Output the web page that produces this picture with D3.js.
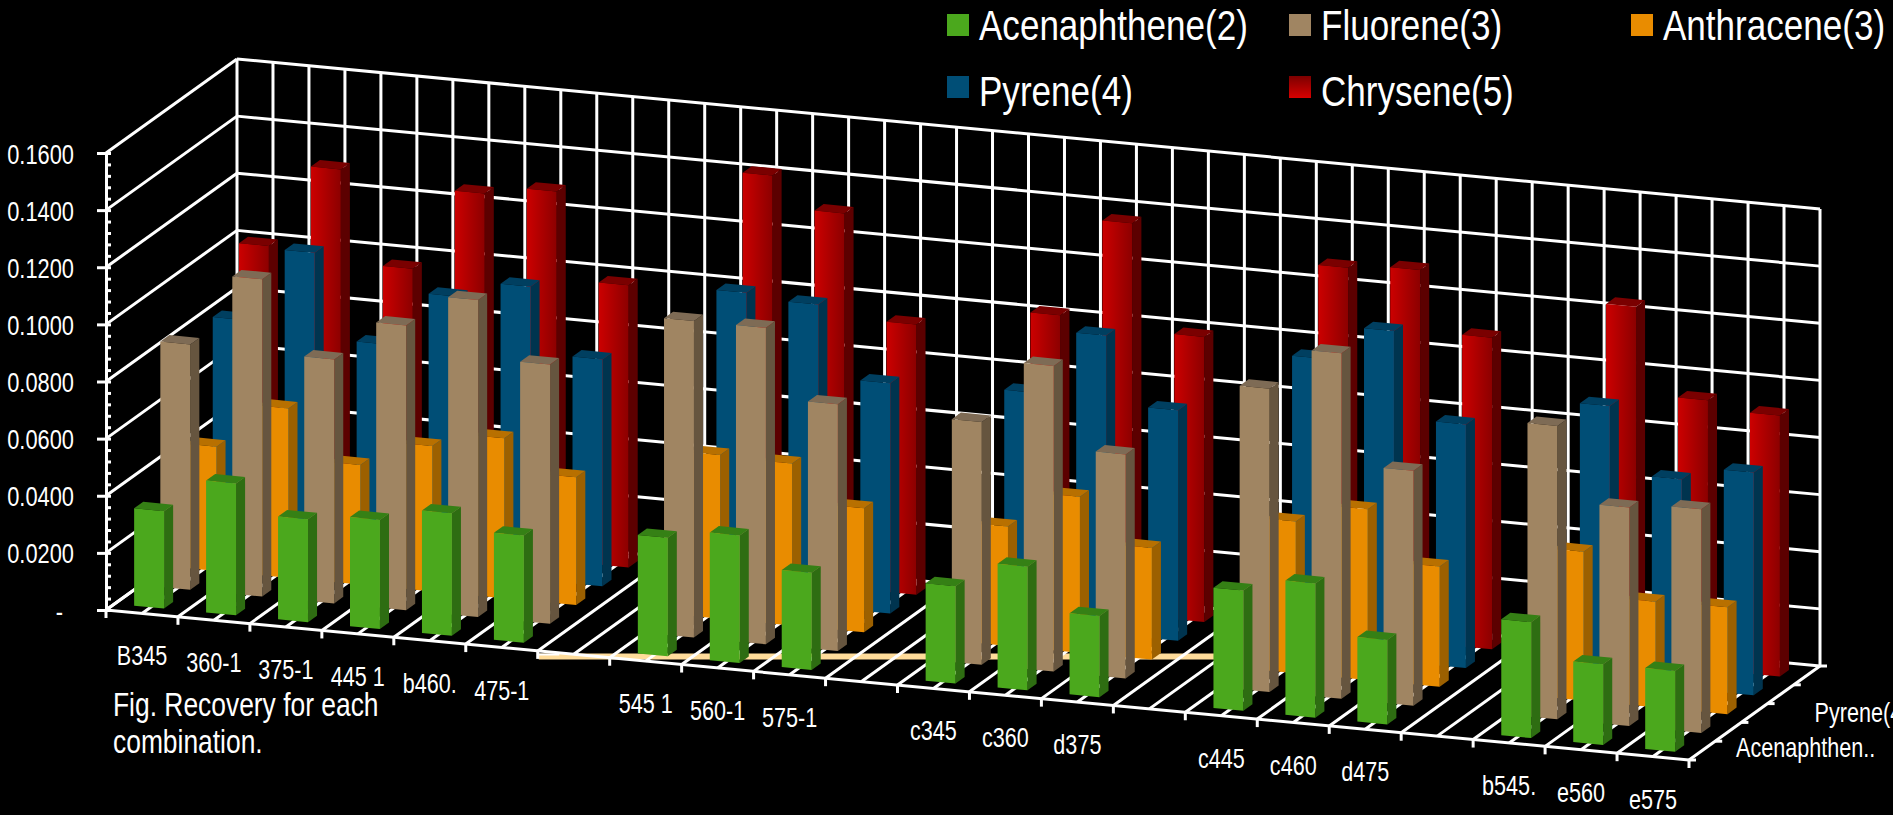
<!DOCTYPE html>
<html><head><meta charset="utf-8">
<script src="https://cdn.jsdelivr.net/npm/d3@7"></script>
<style>
html,body{margin:0;padding:0;background:#000;overflow:hidden}
svg{display:block}
text{font-family:"Liberation Sans",Arial,sans-serif;fill:#fff}
</style></head><body>
<svg id="c" width="1893" height="815"></svg>
<script>
const categories=["B345","360-1","375-1","445 1","b460.","475-1","","545 1","560-1","575-1","","c345","c360","d375","","c445","c460","d475","","b545.","e560","e575"];
const seriesNames=["Acenaphthene(2)","Fluorene(3)","Anthracene(3)","Pyrene(4)","Chrysene(5)"];
const depthLabels=["Acenaphthen..","","","Pyrene(4)",""];
const valueTicks=[0,0.02,0.04,0.06,0.08,0.10,0.12,0.14,0.16];
const acenaphthene=[.0341,.0462,.0360,.0382,.0429,.0375,null,.0415,.0447,.0340,null,.0341,.0433,.0284,null,.0421,.0470,.0296,null,.0406,.0282,.0283];
const fluorene=[.0859,.1111,.0854,.0997,.1110,.0908,null,.1108,.1108,.0864,null,.0850,.1070,.0784,null,.1062,.1210,.0822,null,.1027,.0765,.0783];
const anthracene=[.0435,.0593,.0419,.0509,.0560,.0447,null,.0573,.0567,.0434,null,.0418,.0546,.0391,null,.0531,.0598,.0421,null,.0521,.0370,.0374];
const pyrene=[.0813,.1072,.0775,.0966,.1025,.0794,null,.1075,.1058,.0806,null,.0821,.1045,.0807,null,.1036,.1156,.0853,null,.0965,.0732,.0780];
const chrysene=[.1006,.1298,.0974,.1261,.1292,.0988,null,.1420,.1311,.0946,null,.1026,.1372,.0998,null,.1288,.1304,.1091,null,.1247,.0943,.0914];
const seriesValues=[acenaphthene,fluorene,anthracene,pyrene,chrysene];
const faceColors=[
 {front:"#4ba81d",side:"#2e6d12",top:"#358015"},
 {front:"#a08562",side:"#66553f",top:"#7e6b55"},
 {front:"#e98c00",side:"#9c6000",top:"#b87000"},
 {front:"#004e76",side:"#00344f",top:"#003f60"},
 {front:"url(#redFront)",side:"#5c0000",top:"#7a0000"}];
const legendColors=["#4ba81d","#a08562","#e98c00","#004e76","url(#redLegend)"];

const svg=d3.select("#c");
const defs=svg.append("defs");
const g1=defs.append("linearGradient").attr("id","redFront").attr("x1",0).attr("x2",1).attr("y1",0).attr("y2",0);
g1.append("stop").attr("offset",0).attr("stop-color","#cc0000");
g1.append("stop").attr("offset",1).attr("stop-color","#8c0000");
const g2=defs.append("linearGradient").attr("id","redLegend").attr("x1",0).attr("x2",0).attr("y1",0).attr("y2",1);
g2.append("stop").attr("offset",0).attr("stop-color","#7c0000");
g2.append("stop").attr("offset",1).attr("stop-color","#d80000");

// oblique projection built from scales
const catX=d3.scaleLinear().domain([0,22]).range([106,1689]);
const catY=d3.scaleLinear().domain([0,22]).range([610,760]);
const depX=d3.scaleLinear().domain([0,5]).range([0,131]);
const depY=d3.scaleLinear().domain([0,5]).range([0,-94]);
const valY=d3.scaleLinear().domain([0,0.16]).range([610,153]);
const P=(c,d,v)=>[catX(c)+depX(d), catY(c)+depY(d)+valY(v)-valY(0)];
const pts=a=>a.map(p=>p.join(",")).join(" ");

function label(sel,x,y,str,size,sx,anchor){
  sel.append("text").attr("transform",`translate(${x},${y}) scale(${sx},1)`)
    .attr("font-size",size).attr("text-anchor",anchor||"start").text(str);
}

// stray pale rule under the grid
const stray=svg.append("g");
stray.append("line").attr("x1",catX(6)+1).attr("x2",catX(15.45)).attr("y1",656.5).attr("y2",656.5)
  .attr("stroke","#ffdc9a").attr("stroke-width",6);
stray.append("line").attr("x1",catX(6)+1).attr("x2",catX(6.3)).attr("y1",654.5).attr("y2",654.5)
  .attr("stroke","#fff").attr("stroke-width",2);

// grid
const grid=svg.append("g").attr("stroke","#fff").attr("stroke-width",3).attr("fill","none");
const halfCats=d3.range(0,22.5,0.5);
grid.selectAll(".fl").data(halfCats).join("line").attr("class","fl")
  .attr("x1",c=>P(c,0,0)[0]).attr("y1",c=>P(c,0,0)[1]).attr("x2",c=>P(c,5,0)[0]).attr("y2",c=>P(c,5,0)[1]);
grid.selectAll(".bv").data(halfCats).join("line").attr("class","bv")
  .attr("x1",c=>P(c,5,0)[0]).attr("y1",c=>P(c,5,0)[1]).attr("x2",c=>P(c,5,.16)[0]).attr("y2",c=>P(c,5,.16)[1]);
grid.selectAll(".bh").data(valueTicks).join("line").attr("class","bh")
  .attr("x1",v=>P(0,5,v)[0]).attr("y1",v=>P(0,5,v)[1]).attr("x2",v=>P(22,5,v)[0]).attr("y2",v=>P(22,5,v)[1]);
grid.selectAll(".lw").data(valueTicks).join("line").attr("class","lw")
  .attr("x1",v=>P(0,0,v)[0]).attr("y1",v=>P(0,0,v)[1]).attr("x2",v=>P(0,5,v)[0]).attr("y2",v=>P(0,5,v)[1]);

// bars: back series first
const bw=[0.272,0.688], bd=[0.327,0.673];
seriesValues.map((vals,d)=>({vals,d})).reverse().forEach(({vals,d})=>{
  const col=faceColors[d];
  const rows=vals.map((v,c)=>({v,c})).filter(r=>r.v!=null);
  const g=svg.append("g");
  const bar=g.selectAll("g").data(rows).join("g");
  bar.append("polygon").attr("fill",col.side).attr("points",r=>pts([
    P(r.c+bw[1],d+bd[0],0),P(r.c+bw[1],d+bd[1],0),P(r.c+bw[1],d+bd[1],r.v),P(r.c+bw[1],d+bd[0],r.v)]));
  bar.append("polygon").attr("fill",col.top).attr("points",r=>pts([
    P(r.c+bw[0],d+bd[0],r.v),P(r.c+bw[1],d+bd[0],r.v),P(r.c+bw[1],d+bd[1],r.v),P(r.c+bw[0],d+bd[1],r.v)]));
  bar.append("polygon").attr("fill",col.front).attr("points",r=>pts([
    P(r.c+bw[0],d+bd[0],0),P(r.c+bw[1],d+bd[0],0),P(r.c+bw[1],d+bd[0],r.v),P(r.c+bw[0],d+bd[0],r.v)]));
});

// value axis
const axisG=svg.append("g").attr("transform",`translate(${catX(0)},0)`);
const minor=axisG.append("g").call(d3.axisRight(valY).tickValues(d3.range(0,0.1601,0.004)).tickSize(5).tickFormat(""));
minor.selectAll("line").attr("stroke","#fff").attr("stroke-width",3);
minor.select(".domain").attr("stroke","#fff").attr("stroke-width",3);
const major=axisG.append("g").call(d3.axisLeft(valY).tickValues(valueTicks).tickSize(9).tickFormat(v=>v===0?"-":d3.format(".4f")(v)));
major.select(".domain").remove();
major.selectAll("line").attr("stroke","#fff").attr("stroke-width",3);
major.selectAll("text").attr("x",null).attr("dy",".36em").attr("text-anchor","end").attr("font-size",28)
  .attr("font-family",'"Liberation Sans",Arial,sans-serif').attr("fill","#fff")
  .attr("transform",v=>v===0?"translate(-43,0) scale(.78,1)":"translate(-32,0) scale(.78,1)");

// category axis
const frontAxis=svg.append("g").attr("stroke","#fff").attr("stroke-width",3);
frontAxis.append("line").attr("x1",P(0,0,0)[0]).attr("y1",P(0,0,0)[1]).attr("x2",P(22,0,0)[0]).attr("y2",P(22,0,0)[1]);
frontAxis.selectAll(".t").data(d3.range(0,23)).join("line").attr("class","t")
  .attr("x1",c=>P(c,0,0)[0]).attr("x2",c=>P(c,0,0)[0]).attr("y1",c=>P(c,0,0)[1]-1).attr("y2",c=>P(c,0,0)[1]+8);
const catLabels=svg.append("g");
categories.forEach((t,c)=>{ if(t){const p=P(c+.5,0,0); label(catLabels,p[0],p[1]+52,t,27,.8,"middle");}});

// depth axis
const depthAxis=svg.append("g").attr("stroke","#fff").attr("stroke-width",3);
depthAxis.selectAll("line").data(d3.range(0,6)).join("line")
  .attr("x1",d=>P(22,d,0)[0]).attr("y1",d=>P(22,d,0)[1]).attr("x2",d=>P(22,d,0)[0]+7).attr("y2",d=>P(22,d,0)[1]);
const depG=svg.append("g");
depthLabels.forEach((t,d)=>{ if(t){const p=P(22,d,0); label(depG,p[0]+47,p[1]-(d===0?3:0)+(d===3?18:0),t,27,.8);}});

// legend
const legendPos=[[947,14],[1289,14],[1631,14],[947,76],[1289,76]];
const leg=svg.append("g");
seriesNames.forEach((n,i)=>{
  const [x,y]=legendPos[i];
  leg.append("rect").attr("x",x).attr("y",y).attr("width",22).attr("height",22).attr("fill",legendColors[i]);
  label(leg,x+32,y+(i<3?26:30),n,43,.815);
});

// caption
const cap=svg.append("g");
label(cap,113,716,"Fig. Recovery for each",33,.8);
label(cap,113,753,"combination.",33,.8);
</script></body></html>
